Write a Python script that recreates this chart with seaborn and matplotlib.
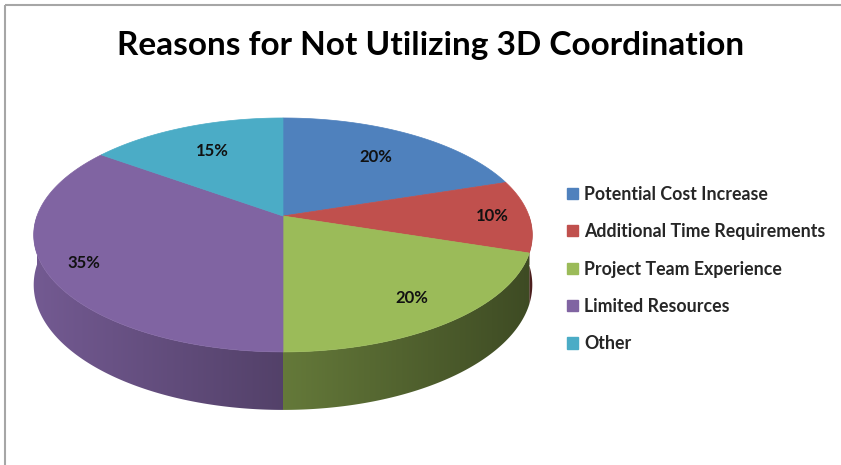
import matplotlib as mpl
import matplotlib.pyplot as plt
import numpy as np
import seaborn as sns
from matplotlib.colors import to_rgb
from matplotlib.patches import Patch, Polygon, Rectangle

mpl.use('Agg')

# chart data
reasons = ['Potential Cost Increase', 'Additional Time Requirements',
           'Project Team Experience', 'Limited Resources', 'Other']
shares = [20, 10, 20, 35, 15]
colors = ['#4f81bd', '#c0504d', '#9bbb59', '#8064a2', '#4bacc6']
title = 'Reasons for Not Utilizing 3D Coordination'

# where the percentage labels sit, as a fraction of the radius
label_radius = [0.7, 0.85, 0.8, 0.85, 0.7]

sns.set_theme(style='white', font='Lato')

# pie geometry in pixels: a tilted disc seen in perspective
cx, cy = 283, 216
rx, ry = 246, 113.9
k = 0.162
depth = 48.6


def project(theta, r=1.0, drop=0.0):
    """Screen position of a point on the disc, theta clockwise from 12 o'clock."""
    x = r * np.sin(theta)
    z = r * np.cos(theta)
    d = 1 + k * z
    dd = 1 + k * np.cos(theta)
    return cx + rx * x / d, cy - ry * z / d + drop / dd


def side_shade(x):
    # the rim gets darker from left to right
    return 0.9 - 0.5 * (x - 33) / 497


fig = plt.figure(figsize=(8.41, 4.65), dpi=100)
ax = fig.add_axes([0, 0, 1, 1])
ax.set_xlim(0, 841)
ax.set_ylim(465, 0)
ax.axis('off')

# slice angles from the values
fractions = np.array(shares) / np.sum(shares)
ends = np.cumsum(fractions) * 2 * np.pi
starts = ends - fractions * 2 * np.pi

# rim of the pie (only the front half can be seen), shaded left to right
for a0, a1, c in zip(starts, ends, colors):
    lo, hi = max(a0, np.pi / 2), min(a1, 3 * np.pi / 2)
    if hi <= lo:
        continue
    t = np.linspace(lo, hi, 200)
    xt, yt = project(t)
    xb, yb = project(t, drop=depth)
    pts = list(zip(xt, yt)) + list(zip(xb[::-1], yb[::-1]))
    base = np.array(to_rgb(c))
    rim = Polygon(pts, closed=True, facecolor='none', edgecolor='none')
    ax.add_patch(rim)
    x0, x1 = min(xt.min(), xb.min()) - 2, max(xt.max(), xb.max()) + 2
    y0, y1 = min(yt.min(), yb.min()) - 2, max(yt.max(), yb.max()) + 2
    gx = np.linspace(x0, x1, 300)
    grad = np.clip(base[None, :] * side_shade(gx)[:, None], 0, 1)[None, :, :]
    im = ax.imshow(grad, extent=[x0, x1, y1, y0], aspect='auto',
                   interpolation='bilinear', zorder=1)
    im.set_clip_path(rim)

# top faces
for a0, a1, c in zip(starts, ends, colors):
    t = np.linspace(a0, a1, 120)
    xs, ys = project(t)
    pts = [(cx, cy)] + list(zip(xs, ys))
    ax.add_patch(Polygon(pts, closed=True, facecolor=c, edgecolor=c, lw=0.5, zorder=2))

# restore limits after imshow
ax.set_xlim(0, 841)
ax.set_ylim(465, 0)

# percentage labels
for a0, a1, v, r in zip(starts, ends, shares, label_radius):
    lx, ly = project((a0 + a1) / 2, r=r)
    ax.text(lx, ly, f'{v}%', ha='center', va='center', fontsize=12,
            fontweight='bold', color='#111111', zorder=3)

fig.text(431 / 841, 1 - 45 / 465, title, ha='center', va='center', fontsize=24,
         fontweight='bold', color='black')

handles = [Patch(facecolor=c, edgecolor=c) for c in colors]
ax.legend(handles, reasons, loc='center left', bbox_to_anchor=(551 / 841, 1 - 269 / 465),
          frameon=False, handlelength=0.6, handleheight=0.6,
          handletextpad=0.35, labelspacing=1.15, prop={'weight': 'bold', 'size': 12.8})

# chart frame (cut off on the right and bottom)
ax.add_patch(Rectangle((5, 5), 900, 600, fill=False, edgecolor='#a6a6a6', lw=1.5))

plt.savefig('out.png', dpi=100)
plt.close()
